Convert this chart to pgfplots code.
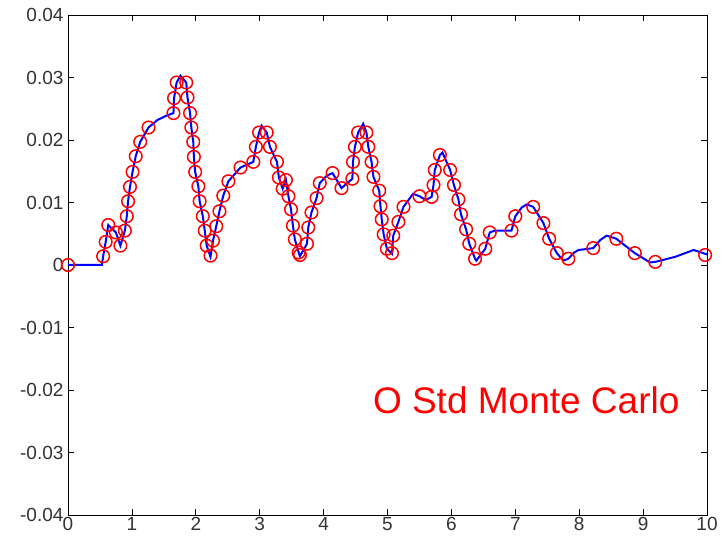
\documentclass[border=0pt]{standalone}
\usepackage{pgfplots}
\pgfplotsset{compat=1.18}
\usepackage{fontspec}
\setmainfont{Liberation Sans}
\begin{document}
\begin{tikzpicture}
\begin{axis}[
  name=ax,
  width=639pt, height=500pt, scale only axis,
  xmin=0, xmax=10, ymin=-0.04, ymax=0.04,
  xtick={0,1,...,10},
  ytick={-0.04,-0.03,-0.02,-0.01,0,0.01,0.02,0.03,0.04},
  yticklabels={-0.04,-0.03,-0.02,-0.01,0,0.01,0.02,0.03,0.04},
  scaled y ticks=false,
  tick align=inside, tick pos=both,
  major tick length=6pt,
  tick style={black, line width=0.8pt},
  axis line style={black, line width=0.9pt},
  ticklabel style={font=\fontsize{19}{22}\selectfont, text=black!80},
  /pgf/number format/assume math mode=true,
  yticklabel style={xshift=-1pt},
  xticklabel style={yshift=-1pt, inner sep=1pt},
  clip=false,
]
\addplot[blue, line width=2pt] coordinates {
(0,0) (0.53,0) (0.55,0.0014) (0.59,0.0037) (0.63,0.0064) (0.75,0.0052) (0.82,0.0031)
(0.89,0.0055) (0.92,0.0078) (0.94,0.0102) (0.97,0.0125) (1.01,0.0149) (1.06,0.0174)
(1.13,0.0197) (1.26,0.0220) (1.40,0.0232) (1.54,0.0239) (1.65,0.0243) (1.66,0.0267) (1.70,0.0292)
(1.76,0.0303) (1.85,0.0292) (1.87,0.0268) (1.91,0.0243) (1.93,0.0220) (1.96,0.0197)
(1.97,0.0173) (1.99,0.0149) (2.04,0.0126) (2.06,0.0102) (2.11,0.0078) (2.14,0.0055)
(2.17,0.0031) (2.23,0.0013) (2.27,0.0039) (2.32,0.0062) (2.37,0.0086) (2.43,0.0111)
(2.51,0.0134) (2.70,0.0156) (2.90,0.0165) (2.94,0.0189) (2.99,0.0212) (3.03,0.0223)
(3.11,0.0212) (3.16,0.0189) (3.27,0.0165) (3.30,0.0140) (3.36,0.0122) (3.41,0.0136)
(3.45,0.0110) (3.49,0.0089) (3.52,0.0063) (3.55,0.0041) (3.61,0.0020) (3.63,0.0014)
(3.74,0.0034) (3.76,0.0060) (3.81,0.0084) (3.89,0.0107) (3.94,0.0131) (4.05,0.0143) (4.14,0.0147)
(4.28,0.0123) (4.45,0.0138) (4.46,0.0165) (4.49,0.0189) (4.54,0.0212) (4.62,0.0226)
(4.67,0.0212) (4.70,0.0189) (4.75,0.0165) (4.78,0.0141) (4.87,0.0119) (4.89,0.0094)
(4.91,0.0073) (4.94,0.0049) (4.99,0.0026) (5.07,0.0018) (5.09,0.0047) (5.17,0.0069)
(5.25,0.0093) (5.40,0.0114) (5.50,0.0110) (5.60,0.0104) (5.69,0.0109) (5.72,0.0128)
(5.74,0.0152) (5.82,0.0176) (5.86,0.0180) (5.98,0.0152) (6.04,0.0128) (6.11,0.0105)
(6.15,0.0081) (6.23,0.0057) (6.28,0.0034) (6.37,0.0010) (6.39,0.0007) (6.53,0.0026)
(6.60,0.0052) (6.68,0.0055) (6.94,0.0055) (7.00,0.0078) (7.10,0.0092) (7.18,0.0097) (7.28,0.0093)
(7.44,0.0067) (7.53,0.0042) (7.65,0.0019) (7.75,0.0007) (7.83,0.0010) (7.92,0.0020) (7.99,0.0024)
(8.22,0.0027) (8.33,0.0040) (8.43,0.0047) (8.58,0.0042) (8.87,0.0019) (9.11,0.0004) (9.19,0.0005)
(9.50,0.0013) (9.79,0.0024) (10,0.0017)
};
\addplot[only marks, mark=o, mark size=6.3pt, mark options={red, line width=1.5pt}] coordinates {
(0,0) (0.55,0.0014) (0.59,0.0037) (0.63,0.0064) (0.75,0.0052) (0.82,0.0031)
(0.89,0.0055) (0.92,0.0078) (0.94,0.0102) (0.97,0.0125) (1.01,0.0149) (1.06,0.0174)
(1.13,0.0197) (1.26,0.0220) (1.65,0.0243) (1.66,0.0267) (1.70,0.0292)
(1.85,0.0292) (1.87,0.0268) (1.91,0.0243) (1.93,0.0220) (1.96,0.0197)
(1.97,0.0173) (1.99,0.0149) (2.04,0.0126) (2.06,0.0102) (2.11,0.0078) (2.14,0.0055)
(2.17,0.0031) (2.23,0.0015) (2.27,0.0039) (2.32,0.0062) (2.37,0.0086) (2.43,0.0111)
(2.51,0.0134) (2.70,0.0156) (2.90,0.0165) (2.94,0.0189) (2.99,0.0212)
(3.11,0.0212) (3.16,0.0189) (3.27,0.0165) (3.30,0.0140) (3.36,0.0122) (3.41,0.0136)
(3.45,0.0110) (3.49,0.0089) (3.52,0.0063) (3.55,0.0041) (3.61,0.0020) (3.63,0.0016)
(3.74,0.0034) (3.76,0.0060) (3.81,0.0084) (3.89,0.0107) (3.94,0.0131) (4.14,0.0147)
(4.28,0.0123) (4.45,0.0138) (4.46,0.0165) (4.49,0.0189) (4.54,0.0212)
(4.67,0.0212) (4.70,0.0189) (4.75,0.0165) (4.78,0.0141) (4.87,0.0119) (4.89,0.0094)
(4.91,0.0073) (4.94,0.0049) (4.99,0.0026) (5.07,0.0019) (5.09,0.0047) (5.17,0.0069)
(5.25,0.0093) (5.50,0.0110) (5.69,0.0109) (5.72,0.0128)
(5.74,0.0152) (5.82,0.0176) (5.98,0.0152) (6.04,0.0128) (6.11,0.0105)
(6.15,0.0081) (6.23,0.0057) (6.28,0.0034) (6.37,0.0010) (6.53,0.0026)
(6.60,0.0052) (6.94,0.0055) (7.00,0.0078) (7.28,0.0093)
(7.44,0.0067) (7.53,0.0042) (7.65,0.0019) (7.83,0.0010)
(8.22,0.0027) (8.58,0.0042) (8.87,0.0019) (9.19,0.0005) (9.97,0.0016)
};
\node[anchor=west, text=red, font=\fontsize{37}{42}\selectfont, inner sep=0pt] at (axis cs:4.77,-0.0217) {O Std Monte Carlo};
\end{axis}
\pgfresetboundingbox
\path ([shift={(-68pt,-26pt)}]ax.south west) rectangle ([shift={(20pt,15pt)}]ax.north east);
\end{tikzpicture}
\end{document}
